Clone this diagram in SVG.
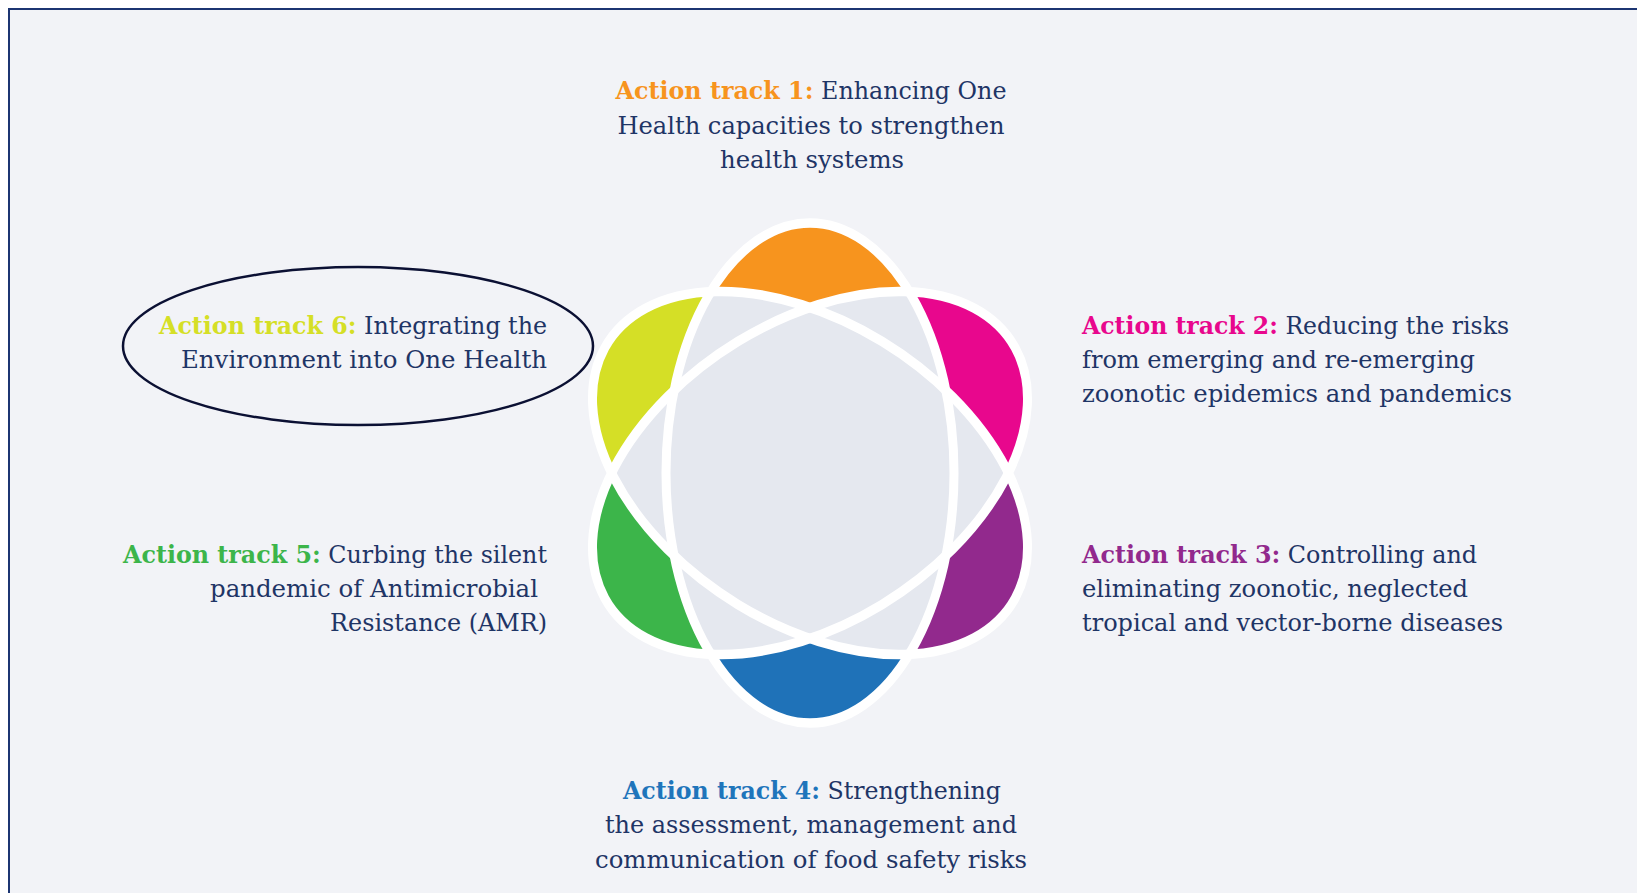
<svg xmlns="http://www.w3.org/2000/svg" xmlns:xlink="http://www.w3.org/1999/xlink" width="1637" height="893" viewBox="0 0 1637 893">
<style>
.lbl{font-family:"DejaVu Serif","Liberation Serif",serif;font-size:24px;fill:#1f3566}
.h{font-weight:bold}
.mid{text-anchor:middle}
.end{text-anchor:end}
.ring{fill:none;stroke:#ffffff;stroke-width:9}
.grey{fill:#e5e8ef}
</style>
<defs>
<ellipse id="e" cx="0" cy="0" rx="144" ry="237"/>
<path id="top" d="M-144,0 A144,237 0 0 1 144,0 Z"/>
<path id="bot" d="M-144,0 A144,237 0 0 0 144,0 Z"/>
<clipPath id="cA"><use href="#e" transform="rotate(60)"/></clipPath>
<clipPath id="cB"><use href="#e" transform="rotate(-60)"/></clipPath>
</defs>
<rect x="0" y="0" width="1637" height="893" fill="#ffffff"/>
<rect x="9" y="9" width="1700" height="1000" fill="#f2f3f7" stroke="#1c3572" stroke-width="2"/>

<g id="flower" transform="translate(810 473) scale(1 1.055)">
  <use href="#top" fill="#f7941e"/>
  <use href="#bot" fill="#1f72b8"/>
  <g transform="rotate(60)">
    <use href="#top" fill="#e8078d"/>
    <use href="#bot" fill="#3cb54a"/>
  </g>
  <g transform="rotate(-60)">
    <use href="#top" fill="#d5df26"/>
    <use href="#bot" fill="#92298d"/>
  </g>
  <g clip-path="url(#cA)"><use href="#e" class="grey"/></g>
  <g clip-path="url(#cB)"><use href="#e" class="grey"/></g>
  <g clip-path="url(#cB)"><use href="#e" class="grey" transform="rotate(60)"/></g>
  <use href="#e" class="ring"/>
  <use href="#e" class="ring" transform="rotate(60)"/>
  <use href="#e" class="ring" transform="rotate(-60)"/>
</g>

<g id="track1">
  <text class="lbl mid" x="811" y="99" textLength="391" lengthAdjust="spacingAndGlyphs"><tspan class="h" fill="#f7941e">Action track 1:</tspan> Enhancing One</text>
  <text class="lbl mid" x="811" y="133.5" textLength="387" lengthAdjust="spacingAndGlyphs">Health capacities to strengthen</text>
  <text class="lbl mid" x="812" y="168" textLength="184" lengthAdjust="spacingAndGlyphs">health systems</text>
</g>
<g id="track2">
  <text class="lbl" x="1082" y="334" textLength="427" lengthAdjust="spacingAndGlyphs"><tspan class="h" fill="#e8078d">Action track 2:</tspan> Reducing the risks</text>
  <text class="lbl" x="1082" y="368" textLength="393" lengthAdjust="spacingAndGlyphs">from emerging and re-emerging</text>
  <text class="lbl" x="1082" y="402" textLength="430" lengthAdjust="spacingAndGlyphs">zoonotic epidemics and pandemics</text>
</g>
<g id="track3">
  <text class="lbl" x="1082" y="563" textLength="395" lengthAdjust="spacingAndGlyphs"><tspan class="h" fill="#92298d">Action track 3:</tspan> Controlling and</text>
  <text class="lbl" x="1082" y="597" textLength="386" lengthAdjust="spacingAndGlyphs">eliminating zoonotic, neglected</text>
  <text class="lbl" x="1082" y="630.5" textLength="421" lengthAdjust="spacingAndGlyphs">tropical and vector-borne diseases</text>
</g>
<g id="track4">
  <text class="lbl mid" x="812" y="799" textLength="378" lengthAdjust="spacingAndGlyphs"><tspan class="h" fill="#1f75bb">Action track 4:</tspan> Strengthening</text>
  <text class="lbl mid" x="811" y="833" textLength="412" lengthAdjust="spacingAndGlyphs">the assessment, management and</text>
  <text class="lbl mid" x="811" y="868" textLength="432" lengthAdjust="spacingAndGlyphs">communication of food safety risks</text>
</g>
<g id="track5">
  <text class="lbl end" x="547" y="563" textLength="424" lengthAdjust="spacingAndGlyphs"><tspan class="h" fill="#3cb54a">Action track 5:</tspan> Curbing the silent</text>
  <text class="lbl end" x="538" y="597" textLength="328" lengthAdjust="spacingAndGlyphs">pandemic of Antimicrobial</text>
  <text class="lbl end" x="547" y="630.5" textLength="217" lengthAdjust="spacingAndGlyphs">Resistance (AMR)</text>
</g>
<g id="track6">
  <ellipse cx="358" cy="346" rx="235" ry="79" fill="none" stroke="#0b1033" stroke-width="2.5"/>
  <text class="lbl end" x="547" y="334" textLength="388" lengthAdjust="spacingAndGlyphs"><tspan class="h" fill="#d5df26">Action track 6:</tspan> Integrating the</text>
  <text class="lbl end" x="547" y="368" textLength="366" lengthAdjust="spacingAndGlyphs">Environment into One Health</text>
</g>
</svg>
